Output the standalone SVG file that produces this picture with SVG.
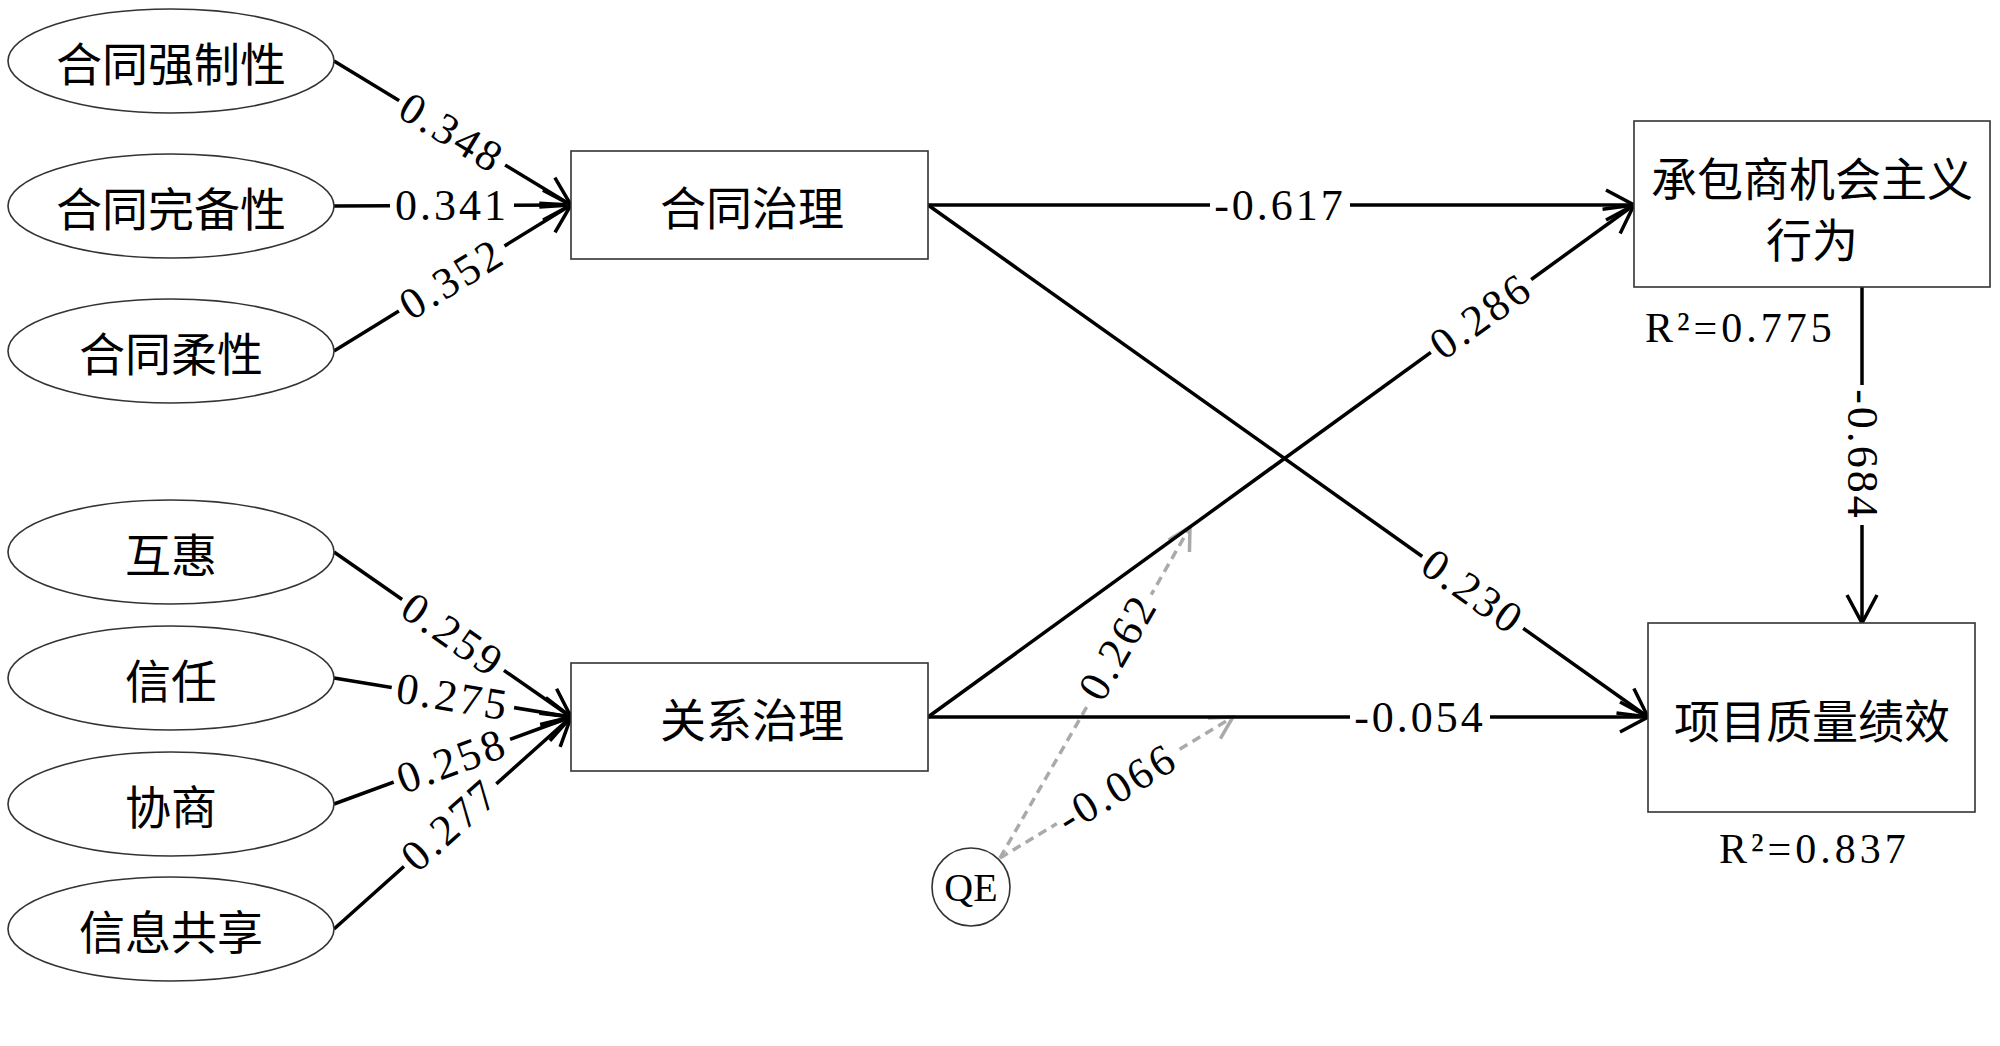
<svg xmlns="http://www.w3.org/2000/svg" width="2000" height="1046" viewBox="0 0 2000 1046">
<defs>
<style>
.node-shape{fill:#fff;stroke:#333;stroke-width:1.6}
.cjk{font-family:"Noto Sans CJK SC","Noto Sans CJK TC",sans-serif;font-size:46px;fill:#000;text-anchor:middle;dominant-baseline:central}
.edge{stroke:#000;stroke-width:3.5;fill:none;marker-end:url(#arr)}
.dash{stroke:#aaa;stroke-width:3.5;fill:none;stroke-dasharray:9 6;marker-end:url(#garr)}
.lbl{font-family:"Liberation Serif","Times New Roman",serif;font-size:44px;fill:#000;text-anchor:middle;dominant-baseline:central;letter-spacing:3px;stroke:#fff;stroke-width:8px;stroke-linejoin:round;paint-order:stroke}
.gap5{fill:#fff;x:-62px;y:-7px;width:124px;height:14px}
.gap6{fill:#fff;x:-70px;y:-7px;width:140px;height:14px}
.r2{font-family:"Liberation Serif","Times New Roman",serif;font-size:42px;fill:#000;dominant-baseline:central;letter-spacing:4px}
</style>
<marker id="arr" viewBox="-3 -3 34 36" refX="28" refY="15" markerWidth="34" markerHeight="36" markerUnits="userSpaceOnUse" orient="auto"><path d="M0,0 L28,15 L0,30" fill="none" stroke="#000" stroke-width="3.5"/></marker>
<marker id="garr" viewBox="-3 -3 30 30" refX="22" refY="12" markerWidth="30" markerHeight="30" markerUnits="userSpaceOnUse" orient="auto"><path d="M0,0 L22,12 L0,24" fill="none" stroke="#aaa" stroke-width="3.5"/></marker>
</defs>
<rect width="2000" height="1046" fill="#fff"/>

<g id="connectors">
  <g id="moderation">
    <path class="dash" d="M1000,858 L1190,527"/>
    <path class="dash" d="M1000,858 L1233,717"/>
    <g transform="translate(1118,647) rotate(-60.1)"><rect class="gap5" x="-62" y="-7" width="124" height="14"/><text class="lbl">0.262</text></g>
    <g transform="translate(1117,788) rotate(-31.2)"><rect class="gap6" x="-70" y="-7" width="140" height="14"/><text class="lbl">-0.066</text></g>
  </g>
  <path class="edge" d="M334,61 L571,205"/>
  <path class="edge" d="M334,206 L571,205"/>
  <path class="edge" d="M334,351 L571,205"/>
  <path class="edge" d="M334,552 L571,717"/>
  <path class="edge" d="M334,678 L571,717"/>
  <path class="edge" d="M334,804 L571,717"/>
  <path class="edge" d="M334,929 L571,717"/>
  <path class="edge" d="M928,205 L1634,205"/>
  <path class="edge" d="M928,205 L1648,717"/>
  <path class="edge" d="M928,717 L1634,205"/>
  <path class="edge" d="M928,717 L1648,717"/>
  <path class="edge" d="M1862,287 L1862,623"/>
  <g transform="translate(452,133) rotate(31.3)"><rect class="gap5" x="-62" y="-7" width="124" height="14"/><text class="lbl">0.348</text></g>
  <g transform="translate(452,205)"><rect class="gap5" x="-62" y="-7" width="124" height="14"/><text class="lbl">0.341</text></g>
  <g transform="translate(452,279) rotate(-31.6)"><rect class="gap5" x="-62" y="-7" width="124" height="14"/><text class="lbl">0.352</text></g>
  <g transform="translate(450,825) rotate(-41.8)"><rect class="gap5" x="-62" y="-7" width="124" height="14"/><text class="lbl">0.277</text></g>
  <g transform="translate(453,697) rotate(9.3)"><rect class="gap5" x="-62" y="-7" width="124" height="14"/><text class="lbl">0.275</text></g>
  <g transform="translate(452,761) rotate(-20.2)"><rect class="gap5" x="-62" y="-7" width="124" height="14"/><text class="lbl">0.258</text></g>
  <g transform="translate(453,635) rotate(34.8)"><rect class="gap5" x="-62" y="-7" width="124" height="14"/><text class="lbl">0.259</text></g>
  <g transform="translate(1280,205)"><rect class="gap6" x="-70" y="-7" width="140" height="14"/><text class="lbl">-0.617</text></g>
  <g transform="translate(1473,592) rotate(35.4)"><rect class="gap5" x="-62" y="-7" width="124" height="14"/><text class="lbl">0.230</text></g>
  <g transform="translate(1481,316) rotate(-35.9)"><rect class="gap5" x="-62" y="-7" width="124" height="14"/><text class="lbl">0.286</text></g>
  <g transform="translate(1420,717)"><rect class="gap6" x="-70" y="-7" width="140" height="14"/><text class="lbl">-0.054</text></g>
  <g transform="translate(1862,455) rotate(90)"><rect class="gap6" x="-70" y="-7" width="140" height="14"/><text class="lbl">-0.684</text></g>
</g>

<g id="n-qiangzhi"><ellipse class="node-shape" cx="171" cy="61" rx="163" ry="52"/><text class="cjk" x="171" y="61">合同强制性</text></g>
<g id="n-wanbei"><ellipse class="node-shape" cx="171" cy="206" rx="163" ry="52"/><text class="cjk" x="171" y="206">合同完备性</text></g>
<g id="n-rouxing"><ellipse class="node-shape" cx="171" cy="351" rx="163" ry="52"/><text class="cjk" x="171" y="351">合同柔性</text></g>
<g id="n-huhui"><ellipse class="node-shape" cx="171" cy="552" rx="163" ry="52"/><text class="cjk" x="171" y="552">互惠</text></g>
<g id="n-xinren"><ellipse class="node-shape" cx="171" cy="678" rx="163" ry="52"/><text class="cjk" x="171" y="678">信任</text></g>
<g id="n-xieshang"><ellipse class="node-shape" cx="171" cy="804" rx="163" ry="52"/><text class="cjk" x="171" y="804">协商</text></g>
<g id="n-xinxi"><ellipse class="node-shape" cx="171" cy="929" rx="163" ry="52"/><text class="cjk" x="171" y="929">信息共享</text></g>

<g id="n-hetong"><rect class="node-shape" x="571" y="151" width="357" height="108"/><text class="cjk" x="752" y="205">合同治理</text></g>
<g id="n-guanxi"><rect class="node-shape" x="571" y="663" width="357" height="108"/><text class="cjk" x="752" y="717">关系治理</text></g>
<g id="n-jihui"><rect class="node-shape" x="1634" y="121" width="356" height="166"/><text class="cjk" x="1812" y="176" font-size="45">承包商机会主义</text><text class="cjk" x="1812" y="237" font-size="45">行为</text></g>
<g id="n-zhiliang"><rect class="node-shape" x="1648" y="623" width="327" height="189"/><text class="cjk" x="1812" y="718">项目质量绩效</text></g>
<g id="n-qe"><circle class="node-shape" cx="971" cy="887" r="39"/><text x="971" y="887" font-family="Liberation Serif, serif" font-size="40" text-anchor="middle" dominant-baseline="central">QE</text></g>

<text class="r2" x="1645" y="328">R²=0.775</text>
<text class="r2" x="1719" y="849">R²=0.837</text>
</svg>
